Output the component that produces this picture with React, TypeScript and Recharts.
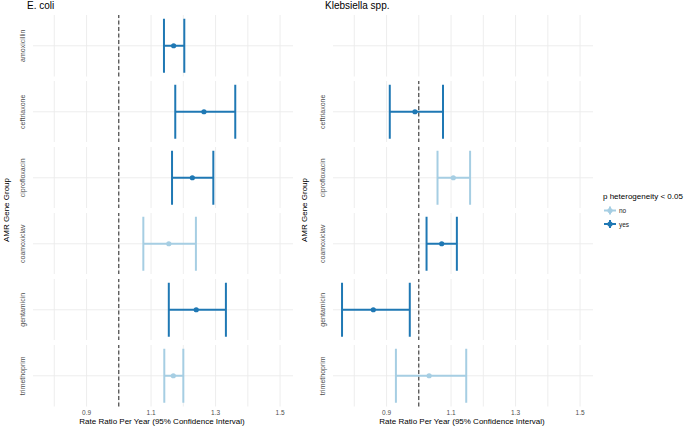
import React from 'react';
import { ScatterChart, Scatter, XAxis, YAxis, CartesianGrid, ErrorBar, ReferenceLine } from 'recharts';

const genes = ['amoxicillin', 'ceftriaxone', 'ciprofloxacin', 'coamoxiclav', 'gentamicin', 'trimethoprim'];

const ecoliEstimate = [1.17, 1.264, 1.228, 1.155, 1.24, 1.169];
const ecoliLower = [1.14, 1.175, 1.165, 1.076, 1.155, 1.141];
const ecoliUpper = [1.203, 1.361, 1.293, 1.239, 1.332, 1.2];
const ecoliHet = ['yes', 'yes', 'yes', 'no', 'yes', 'no'];

const klebEstimate = [null, 0.988, 1.107, 1.071, 0.859, 1.032];
const klebLower = [null, 0.91, 1.058, 1.024, 0.762, 0.929];
const klebUpper = [null, 1.075, 1.159, 1.118, 0.972, 1.147];
const klebHet = [null, 'yes', 'no', 'yes', 'yes', 'no'];

const speciesNames = ['E. coli', 'Klebsiella spp.'];
const xTicks = [0.8, 0.9, 1.0, 1.1, 1.2, 1.3, 1.4, 1.5];
const xTickLabels = ['', '0.9', '', '1.1', '', '1.3', '', '1.5'];
const xDomain = [0.734, 1.54];
const legendLevels = ['no', 'yes'];
const legendTitle = 'p heterogeneity < 0.05';
const xTitle = 'Rate Ratio Per Year (95% Confidence Interval)';
const yTitle = 'AMR Gene Group';

const hetColors: Record<string, string> = { no: '#a6cee3', yes: '#1f78b4' };
const FONT = '"Liberation Sans", Arial, Helvetica, sans-serif';

const PANEL_TOP = 15;
const PANEL_H = 61.5;
const ROW_STEP = 65.9;
const AXIS_H = 14;
const CHART_W = 293;
const Y_AXIS_W = 33;
const SPECIES_SHIFT = 300;

function StripTick(props: any) {
  const { y, label } = props;
  return (
    <text
      x={0}
      y={0}
      transform={`translate(22,${y}) rotate(-90)`}
      textAnchor="middle"
      dominantBaseline="central"
      fontSize={7}
      fill="#4d4d4d"
      fontFamily={FONT}
    >
      {label}
    </text>
  );
}

function verticalGen(props: any) {
  const { xAxis, offset } = props;
  const sc = xAxis && typeof xAxis.scale === 'function' ? xAxis.scale : null;
  return xTicks.map((v) =>
    sc ? sc(v) : offset.left + ((v - xDomain[0]) / (xDomain[1] - xDomain[0])) * offset.width
  );
}

function horizontalGen(props: any) {
  const { yAxis, offset } = props;
  const sc = yAxis && typeof yAxis.scale === 'function' ? yAxis.scale : null;
  return [sc ? sc(0) : offset.top + offset.height / 2];
}

function FacetRow(props: {
  gene: string;
  est: number | null;
  lo: number | null;
  hi: number | null;
  het: string | null;
  bottom: boolean;
}) {
  const { gene, est, lo, hi, het, bottom } = props;
  const data =
    est == null || lo == null || hi == null
      ? []
      : [{ x: est, y: 0, err: [est - lo, hi - est] }];
  const color = het ? hetColors[het] : '#000';
  const h = PANEL_H + (bottom ? AXIS_H : 0);
  return (
    <ScatterChart width={CHART_W} height={h} margin={{ top: 0, right: 0, bottom: 0, left: 0 }}>
      <CartesianGrid
        stroke="#ebebeb"
        strokeWidth={0.9}
        verticalCoordinatesGenerator={verticalGen}
        horizontalCoordinatesGenerator={horizontalGen}
      />
      <XAxis
        type="number"
        dataKey="x"
        domain={xDomain}
        ticks={xTicks}
        interval={0}
        allowDataOverflow
        hide={!bottom}
        height={AXIS_H}
        tickLine={false}
        axisLine={false}
        tickSize={2}
        tickMargin={2}
        tick={{ fontSize: 6.5, fill: '#4d4d4d', fontFamily: FONT }}
        tickFormatter={(v: number) => xTickLabels[xTicks.indexOf(v)] ?? ''}
      />
      <YAxis
        type="number"
        dataKey="y"
        domain={[-1, 1]}
        ticks={[0]}
        width={Y_AXIS_W}
        tickLine={false}
        axisLine={false}
        tick={<StripTick label={gene} />}
      />
      <ReferenceLine x={1} stroke="#222222" strokeWidth={1} strokeDasharray="4 2.5" />
      <Scatter
        data={data}
        isAnimationActive={false}
        shape={(p: any) => <circle cx={p.cx} cy={p.cy} r={2.6} fill={color} />}
      >
        <ErrorBar
          dataKey="err"
          direction="x"
          width={27}
          stroke={color}
          strokeWidth={2}
          isAnimationActive={false}
        />
      </Scatter>
    </ScatterChart>
  );
}

const speciesData = [
  { est: ecoliEstimate, lo: ecoliLower, hi: ecoliUpper, het: ecoliHet },
  { est: klebEstimate, lo: klebLower, hi: klebUpper, het: klebHet },
];

export default function App() {
  return (
    <div
      style={{
        position: 'absolute',
        left: 0,
        top: 0,
        width: 685,
        height: 428,
        background: '#ffffff',
        fontFamily: FONT,
        overflow: 'hidden',
      }}
    >
      {speciesData.map((sp, s) => (
        <div key={s} style={{ position: 'absolute', left: s * SPECIES_SHIFT, top: 0 }}>
          {genes.map((g, i) => (
            <div
              key={g}
              style={{ position: 'absolute', left: 0, top: PANEL_TOP + i * ROW_STEP }}
            >
              <FacetRow
                gene={g}
                est={sp.est[i]}
                lo={sp.lo[i]}
                hi={sp.hi[i]}
                het={sp.het[i]}
                bottom={i === genes.length - 1}
              />
            </div>
          ))}
        </div>
      ))}
      <svg
        width={685}
        height={428}
        style={{ position: 'absolute', left: 0, top: 0, pointerEvents: 'none' }}
        fontFamily={FONT}
      >
        {speciesNames.map((name, s) => (
          <g key={name}>
            <text x={27 + s * 298} y={9} fontSize={10} fill="#000">
              {name}
            </text>
            <text
              transform={`translate(${6 + s * 298},210) rotate(-90)`}
              textAnchor="middle"
              dominantBaseline="central"
              fontSize={8}
              fill="#000"
            >
              {yTitle}
            </text>
            <text x={162 + s * SPECIES_SHIFT} y={424} textAnchor="middle" fontSize={8} fill="#000">
              {xTitle}
            </text>
          </g>
        ))}
        <text x={603} y={199} fontSize={8} fill="#000">
          {legendTitle}
        </text>
        {legendLevels.map((lv, k) => {
          const cy = 210.5 + k * 13.5;
          const c = hetColors[lv];
          return (
            <g key={lv}>
              <line x1={604} x2={616} y1={cy} y2={cy} stroke={c} strokeWidth={2} />
              <line x1={610} x2={610} y1={cy - 4} y2={cy + 4} stroke={c} strokeWidth={2} />
              <circle cx={610} cy={cy} r={2.6} fill={c} />
              <text x={619} y={cy} dominantBaseline="central" fontSize={6.5} fill="#222">
                {lv}
              </text>
            </g>
          );
        })}
      </svg>
    </div>
  );
}
